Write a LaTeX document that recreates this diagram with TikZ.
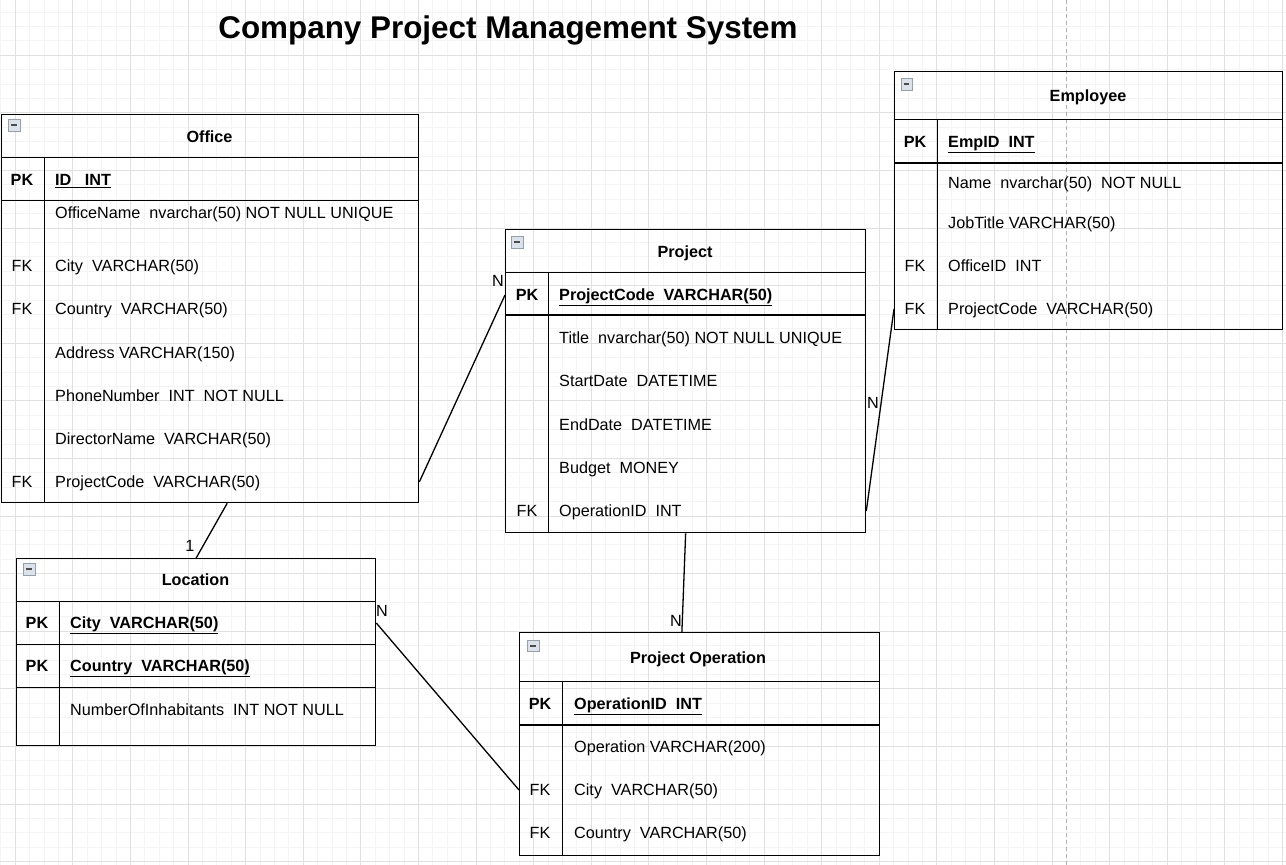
\documentclass[tikz,border=0pt]{standalone}
\usepackage{fontspec}
\setmainfont{Liberation Sans}
\usepackage{tikz}

\definecolor{gridminor}{HTML}{F4F4F4}
\definecolor{gridmajor}{HTML}{E0E0E0}
\definecolor{iconfill}{HTML}{DCE2EA}
\definecolor{iconedge}{HTML}{96A0AC}

\begin{document}
\begin{tikzpicture}[x=1pt,y=-1pt,
    tbl/.style={draw, line width=1.3, anchor=north west, inner sep=0},
    field/.style={anchor=west, inner sep=0, text height=11.5, text depth=0, font=\fontsize{16.2}{19}\selectfont},
    key/.style={field, anchor=center},
    head/.style={key, font=\fontsize{16.2}{19}\selectfont\bfseries},
    card/.style={key},
    rel/.style={line width=1.3},
    icon/.style={draw=iconedge, fill=iconfill, minimum size=11.5, inner sep=0,
      path picture={\draw[line width=2, black!70] ([xshift=3]path picture bounding box.west) -- ([xshift=-3]path picture bounding box.east);}}]
    %background
    \useasboundingbox (0,0) rectangle (1286,865);
    \fill[white] (0,0) rectangle (1286,865);
    \foreach \i in {0,...,89} \draw[gridminor] ({0.6+14.4*\i},0) -- ({0.6+14.4*\i},865);
    \foreach \i in {0,...,60} \draw[gridminor] (0,{11.8+14.4*\i}) -- (1286,{11.8+14.4*\i});
    \foreach \i in {0,...,22} \draw[gridmajor] ({15+57.6*\i},0) -- ({15+57.6*\i},865);
    \foreach \i in {0,...,15} \draw[gridmajor] (0,{-2.6+57.6*\i}) -- (1286,{-2.6+57.6*\i});
    \draw[black!30, dash pattern=on 4 off 3] (1066.5,0) -- (1066.5,865);
    \node[key, font=\fontsize{31.4}{36}\selectfont\bfseries, text height=22] (title) at (508,27) {Company Project Management System};
    %Office
    \begin{scope}[shift={(1,114)}]
      \node[tbl, minimum width=417, minimum height=388] (office) at (0,0) {};
      \draw (0,43) -- (417,43);
      \draw (0,86) -- (417,86);
      \draw (43,43) -- (43,388);
      \node[icon] (office-icon) at (13,11) {};
      \node[head] (office-title) at (208.5,23) {Office};
      \node[key, font=\fontsize{16.2}{19}\selectfont\bfseries] (office-k1) at (21,66) {PK};
      \node[field, font=\fontsize{16.2}{19}\selectfont\bfseries] (office-f1) at (54,66) {\underline{ID\ \ \ INT}};
      \node[field] (office-f2) at (54,99) {OfficeName\ \ nvarchar(50) NOT NULL UNIQUE};
      \node[key] (office-k3) at (21,152) {FK};
      \node[field] (office-f3) at (54,152) {City\ \ VARCHAR(50)};
      \node[key] (office-k4) at (21,195) {FK};
      \node[field] (office-f4) at (54,195) {Country\ \ VARCHAR(50)};
      \node[field] (office-f5) at (54,239) {Address VARCHAR(150)};
      \node[field] (office-f6) at (54,282) {PhoneNumber\ \ INT\ \ NOT NULL};
      \node[field] (office-f7) at (54,325) {DirectorName\ \ VARCHAR(50)};
      \node[key] (office-k8) at (21,368) {FK};
      \node[field] (office-f8) at (54,368) {ProjectCode\ \ VARCHAR(50)};
    \end{scope}
    %Project
    \begin{scope}[shift={(505,229)}]
      \node[tbl, minimum width=360, minimum height=303] (project) at (0,0) {};
      \draw (0,43) -- (360,43);
      \draw[line width=2.2] (0,86) -- (360,86);
      \draw (43,43) -- (43,303);
      \node[icon] (project-icon) at (12,13) {};
      \node[head] (project-title) at (180,23) {Project};
      \node[key, font=\fontsize{16.2}{19}\selectfont\bfseries] (project-k1) at (22,66) {PK};
      \node[field, font=\fontsize{16.2}{19}\selectfont\bfseries] (project-f1) at (54,66) {\underline{ProjectCode\ \ VARCHAR(50)}};
      \node[field] (project-f2) at (54,109) {Title\ \ nvarchar(50) NOT NULL UNIQUE};
      \node[field] (project-f3) at (54,152) {StartDate\ \ DATETIME};
      \node[field] (project-f4) at (54,196) {EndDate\ \ DATETIME};
      \node[field] (project-f5) at (54,239) {Budget\ \ MONEY};
      \node[key] (project-k6) at (22,282) {FK};
      \node[field] (project-f6) at (54,282) {OperationID\ \ INT};
    \end{scope}
    %Employee
    \begin{scope}[shift={(894,71)}]
      \node[tbl, minimum width=388, minimum height=258] (employee) at (0,0) {};
      \draw (0,48) -- (388,48);
      \draw[line width=2.2] (0,92) -- (388,92);
      \draw (43,48) -- (43,258);
      \node[icon] (employee-icon) at (12.5,13) {};
      \node[head] (employee-title) at (194,25) {Employee};
      \node[key, font=\fontsize{16.2}{19}\selectfont\bfseries] (employee-k1) at (21,71) {PK};
      \node[field, font=\fontsize{16.2}{19}\selectfont\bfseries] (employee-f1) at (54,71) {\underline{EmpID\ \ INT}};
      \node[field] (employee-f2) at (54,112) {Name\ \ nvarchar(50)\ \ NOT NULL};
      \node[field] (employee-f3) at (54,152) {JobTitle VARCHAR(50)};
      \node[key] (employee-k4) at (21,195) {FK};
      \node[field] (employee-f4) at (54,195) {OfficeID\ \ INT};
      \node[key] (employee-k5) at (21,238) {FK};
      \node[field] (employee-f5) at (54,238) {ProjectCode\ \ VARCHAR(50)};
    \end{scope}
    %Location
    \begin{scope}[shift={(16,558)}]
      \node[tbl, minimum width=359, minimum height=187] (location) at (0,0) {};
      \draw (0,43) -- (359,43);
      \draw (0,86) -- (359,86);
      \draw (0,129) -- (359,129);
      \draw (43,43) -- (43,187);
      \node[icon] (location-icon) at (13,11) {};
      \node[head] (location-title) at (179.5,22) {Location};
      \node[key, font=\fontsize{16.2}{19}\selectfont\bfseries] (location-k1) at (21,65) {PK};
      \node[field, font=\fontsize{16.2}{19}\selectfont\bfseries] (location-f1) at (54,65) {\underline{City\ \ VARCHAR(50)}};
      \node[key, font=\fontsize{16.2}{19}\selectfont\bfseries] (location-k2) at (21,108) {PK};
      \node[field, font=\fontsize{16.2}{19}\selectfont\bfseries] (location-f2) at (54,108) {\underline{Country\ \ VARCHAR(50)}};
      \node[field] (location-f3) at (54,152) {NumberOfInhabitants\ \ INT NOT NULL};
    \end{scope}
    %Project Operation
    \begin{scope}[shift={(519,632)}]
      \node[tbl, minimum width=360, minimum height=223] (projop) at (0,0) {};
      \draw (0,49) -- (360,49);
      \draw[line width=2.2] (0,93) -- (360,93);
      \draw (43,49) -- (43,223);
      \node[icon] (projop-icon) at (14,13.5) {};
      \node[head] (projop-title) at (179,26) {Project Operation};
      \node[key, font=\fontsize{16.2}{19}\selectfont\bfseries] (projop-k1) at (21,72) {PK};
      \node[field, font=\fontsize{16.2}{19}\selectfont\bfseries] (projop-f1) at (55,72) {\underline{OperationID\ \ INT}};
      \node[field] (projop-f2) at (55,115) {Operation VARCHAR(200)};
      \node[key] (projop-k3) at (21,158) {FK};
      \node[field] (projop-f3) at (55,158) {City\ \ VARCHAR(50)};
      \node[key] (projop-k4) at (21,201) {FK};
      \node[field] (projop-f4) at (55,201) {Country\ \ VARCHAR(50)};
    \end{scope}
    %relations
    \draw[rel] (office.east |- office-f8) -- (project.west |- project-f1);
    \node[card] (office-project-n) at (498,281) {N};
    \draw[rel] (office.-85) -- (location.north);
    \node[card] (office-location-1) at (190,545.5) {1};
    \draw[rel] (project.south) -- (projop.99);
    \node[card] (project-projop-n) at (676,620.5) {N};
    \draw[rel] (location.east |- location-f1) -- (projop.west |- projop-f3);
    \node[card] (location-projop-n) at (382,610.5) {N};
    \draw[rel] (project.east |- project-f6) -- (employee.west |- employee-f5);
    \node[card] (project-employee-n) at (873,403) {N};
  \end{tikzpicture}
\end{document}
